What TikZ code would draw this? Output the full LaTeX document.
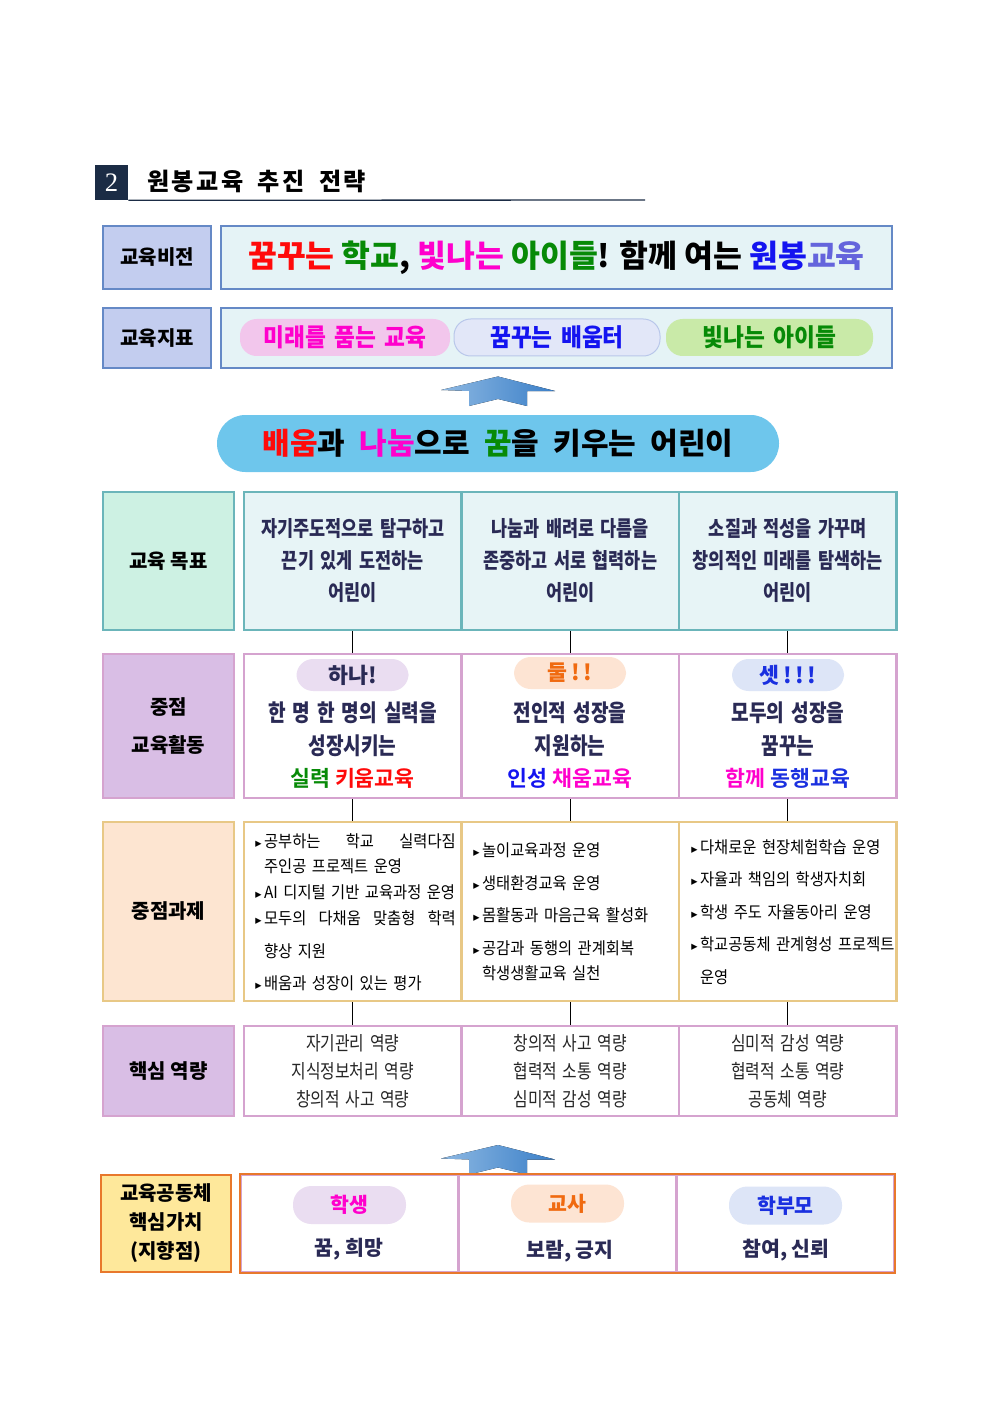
\documentclass[tikz,border=0pt]{standalone}
\usepackage{fontspec}
\setmainfont{Noto Sans CJK KR}
\newfontfamily\cond{Noto Sans CJK KR}[FakeStretch=0.82, WordSpace=1.6]
\newfontfamily\narrow{Noto Sans CJK KR}[FakeStretch=0.92, WordSpace=1.6]
\newfontfamily\titlefont{Noto Sans CJK KR}[LetterSpace=10, WordSpace=1.8]
\IfFontExistsTF{Noto Sans CJK KR Black}
  {\newfontfamily\heavy{Noto Sans CJK KR Black}}
  {\newfontfamily\heavyfb{Noto Sans CJK KR}\newcommand\heavy{\heavyfb\bfseries}}
\newfontfamily\numfont{Liberation Serif}
\newfontfamily\sym{DejaVu Sans}

\definecolor{hdr}{HTML}{1B2C45}
\definecolor{vline}{HTML}{6589C6}
\definecolor{vleft}{HTML}{C3CDEF}
\definecolor{vfill}{HTML}{E5F3F6}
\definecolor{kred}{HTML}{FF0A0A}
\definecolor{mag}{HTML}{FF00CC}
\definecolor{dgreen}{HTML}{078A07}
\definecolor{vblue}{HTML}{1414F0}
\definecolor{vpurple}{HTML}{6464DC}
\definecolor{pinkpill}{HTML}{F2C6EC}
\definecolor{bluepill}{HTML}{E2E7F8}
\definecolor{bluerim}{HTML}{B9C7EA}
\definecolor{greenpill}{HTML}{C9EAA8}
\definecolor{sky}{HTML}{6EC6EC}
\definecolor{arrowlt}{HTML}{8DB8E2}
\definecolor{arrowdk}{HTML}{3B7FC8}
\definecolor{gline}{HTML}{6BB5BA}
\definecolor{gleft}{HTML}{CDF1E3}
\definecolor{gfill}{HTML}{E7F4F6}
\definecolor{aline}{HTML}{D5A3CF}
\definecolor{aleft}{HTML}{D9BEE5}
\definecolor{tline}{HTML}{E8C886}
\definecolor{tleft}{HTML}{FDE5D1}
\definecolor{cline}{HTML}{E8782C}
\definecolor{cleft}{HTML}{FEE89B}
\definecolor{ink}{HTML}{2A2A55}
\definecolor{lav}{HTML}{EADDF1}
\definecolor{peach}{HTML}{FDE4D3}
\definecolor{ice}{HTML}{DDE5F7}
\definecolor{orng}{HTML}{F06A10}
\definecolor{pblue}{HTML}{1A30E0}

\newcommand\bul{{\sym\fontsize{7.5}{7.5}\selectfont ▸}\hspace{1.5pt}}
\newcommand\ind{\hphantom{\bul}}

\begin{document}
\begin{tikzpicture}[x=0.6pt, y=-0.6pt,
  wh/.style 2 args={minimum width=0.6pt*#1, minimum height=0.6pt*#2},
  frame/.style={draw=#1, line width=1.4pt, inner sep=0pt, align=center},
  tag/.style={font=\heavy\fontsize{12}{22.8}\selectfont},
  pill/.style={rounded corners=10pt, inner sep=0pt, align=center},
  goaltext/.style={font=\cond\bfseries\fontsize{12.8}{19.2}\selectfont, text=ink},
  acttext/.style={font=\cond\bfseries\fontsize{14}{19.5}\selectfont, text=ink, align=center},
  tasktext/.style={font=\narrow\fontsize{10}{15.5}\selectfont, anchor=west, align=left, inner sep=0pt},
  coretext/.style={font=\cond\fontsize{11.6}{16.8}\selectfont, text=black!85},
  link/.style={line width=0.7pt},
  uparrow/.style={left color=arrowlt, right color=arrowdk}]
\useasboundingbox (0,0) rectangle (992,1403);

\node[fill=hdr, wh={33}{35}, inner sep=0pt, text=white, font=\numfont\fontsize{16}{16}\selectfont] (num) at (111.5,182.5) {2};
\node[anchor=west, inner sep=0pt, font=\titlefont\bfseries\fontsize{14.5}{14.5}\selectfont] (title) at (147,181) {원봉교육 추진 전략};
\draw[hdr, line width=0.8pt] (num.south east) -- (645,200);

\node[frame=vline, fill=vleft, wh={108}{63}, tag] (visL) at (157,257.5) {교육비전};
\node[frame=vline, fill=vfill, wh={671}{63}, font=\heavy\fontsize{18.8}{18.8}\selectfont] (vis) at (556.5,257.5)
  {\textcolor{kred}{꿈꾸는} \textcolor{dgreen}{학교}, \textcolor{mag}{빛나는} \textcolor{dgreen}{아이들}! 함께 여는 \textcolor{vblue}{원봉}\textcolor{vpurple}{교육}};

\node[frame=vline, fill=vleft, wh={108}{60}, tag] (idxL) at (157,338) {교육지표};
\node[frame=vline, fill=vfill, wh={671}{60}] (idx) at (556.5,338) {};
\begin{scope}[every node/.style={pill, font=\narrow\bfseries\fontsize{14.8}{14.8}\selectfont}]
\node[fill=pinkpill, wh={210}{37}, text=mag] (idx1) at (345,337.5) {미래를 품는 교육};
\node[fill=bluepill, draw=bluerim, line width=0.6pt, wh={206}{37}, text=vblue] (idx2) at (557,337.5) {꿈꾸는 배움터};
\node[fill=greenpill, wh={207}{37}, text=dgreen] (idx3) at (769.5,337.5) {빛나는 아이들};
\end{scope}

\foreach \dy in {0,768.5}
  \fill[uparrow, shift={(0,\dy)}] (441,390) -- (498,376.5) -- (555,391) -- (527,391) -- (527,406)
    -- (498,399) -- (469,406) -- (469,391) -- cycle;

\node[fill=sky, rounded corners=17pt, wh={562}{57}, inner sep=0pt, font=\bfseries\fontsize{18}{18}\selectfont] (motto) at (498,443.5)
  {\textcolor{kred}{배움}과\hspace{8.5pt}\textcolor{mag}{나눔}으로\hspace{8.5pt}\textcolor{dgreen}{꿈}을\hspace{8.5pt}키우는\hspace{8.5pt}어린이};

\node[frame=gline, fill=gleft, wh={131}{138}, tag] (goalL) at (168.5,561) {교육 목표};
\node[frame=gline, fill=gfill, wh={217.5}{138}, goaltext] (g1) at (352.75,561) {자기주도적으로 탐구하고\\끈기 있게 도전하는\\어린이};
\node[frame=gline, fill=gfill, wh={217.5}{138}, goaltext] (g2) at (570.25,561) {나눔과 배려로 다름을\\존중하고 서로 협력하는\\어린이};
\node[frame=gline, fill=gfill, wh={217.5}{138}, goaltext] (g3) at (787.75,561) {소질과 적성을 가꾸며\\창의적인 미래를 탐색하는\\어린이};

\node[frame=aline, fill=aleft, wh={131}{144}, tag] (actL) at (168.5,726) {중점\\교육활동};
\node[frame=aline, fill=white, wh={217.5}{144}] (a1) at (352.75,726) {};
\node[frame=aline, fill=white, wh={217.5}{144}] (a2) at (570.25,726) {};
\node[frame=aline, fill=white, wh={217.5}{144}] (a3) at (787.75,726) {};
\begin{scope}[every node/.style={pill, wh={112}{32}, font=\bfseries\fontsize{13}{13}\selectfont}]
\node[fill=lav, text=ink] (ap1) at (352.5,675) {하나!};
\node[fill=peach, text=orng] (ap2) at (570,673) {둘\,!\,!};
\node[fill=ice, text=pblue] (ap3) at (788,675) {셋\,!\,!\,!};
\end{scope}
\node[acttext] (at1) at (352.5,745.5) {한 명 한 명의 실력을\\성장시키는\\{\heavy\fontsize{13}{19.5}\selectfont\textcolor{dgreen}{실력} \textcolor{kred}{키움교육}}};
\node[acttext] (at2) at (570,745.5) {전인적 성장을\\지원하는\\{\heavy\fontsize{13}{19.5}\selectfont\textcolor{vblue}{인성} \textcolor{mag}{채움교육}}};
\node[acttext] (at3) at (788,745.5) {모두의 성장을\\꿈꾸는\\{\heavy\fontsize{13}{19.5}\selectfont\textcolor{mag}{함께} \textcolor{pblue}{동행교육}}};

\node[frame=tline, fill=tleft, wh={131}{179}, tag] (taskL) at (168.5,911.5) {중점과제};
\node[frame=tline, fill=white, wh={217.5}{179}] (t1) at (352.75,911.5) {};
\node[frame=tline, fill=white, wh={217.5}{179}] (t2) at (570.25,911.5) {};
\node[frame=tline, fill=white, wh={217.5}{179}] (t3) at (787.75,911.5) {};
\node[tasktext] (tt1) at (255,912) {\bul\makebox[115pt][s]{공부하는 학교 실력다짐}\\
  \ind 주인공 프로젝트 운영\\
  \bul AI 디지털 기반 교육과정 운영\\
  \bul\makebox[115pt][s]{모두의 다채움 맞춤형 학력}\\[4pt]
  \ind 향상 지원\\[4pt]
  \bul 배움과 성장이 있는 평가};
\node[tasktext] (tt2) at (473,912) {\bul 놀이교육과정 운영\\[4pt]
  \bul 생태환경교육 운영\\[4pt]
  \bul 몸활동과 마음근육 활성화\\[4pt]
  \bul 공감과 동행의 관계회복\\
  \ind 학생생활교육 실천};
\node[tasktext] (tt3) at (691,912) {\bul 다채로운 현장체험학습 운영\\[4pt]
  \bul 자율과 책임의 학생자치회\\[4pt]
  \bul 학생 주도 자율동아리 운영\\[4pt]
  \bul 학교공동체 관계형성 프로젝트\\[4pt]
  \ind 운영};

\node[frame=aline, fill=aleft, wh={131}{90}, tag] (coreL) at (168.5,1071) {핵심 역량};
\node[frame=aline, fill=white, wh={217.5}{90}, coretext] (k1) at (352.75,1071) {자기관리 역량\\지식정보처리 역량\\창의적 사고 역량};
\node[frame=aline, fill=white, wh={217.5}{90}, coretext] (k2) at (570.25,1071) {창의적 사고 역량\\협력적 소통 역량\\심미적 감성 역량};
\node[frame=aline, fill=white, wh={217.5}{90}, coretext] (k3) at (787.75,1071) {심미적 감성 역량\\협력적 소통 역량\\공동체 역량};

\foreach \i in {1,2,3} {
  \draw[link] (g\i.south) -- (a\i.north);
  \draw[link] (a\i.south) -- (t\i.north);
  \draw[link] (t\i.south) -- (k\i.north);
}

\node[frame=cline, fill=cleft, wh={130}{97}, font=\heavy\fontsize{12}{17.4}\selectfont] (commL) at (166,1223.5) {교육공동체\\핵심가치\\(지향점)};
\node[frame=aline, fill=white, wh={217.7}{97}] (c1) at (349.8,1223.5) {};
\node[frame=aline, fill=white, wh={217.7}{97}] (c2) at (567.5,1223.5) {};
\node[frame=aline, fill=white, wh={217.7}{97}] (c3) at (785.2,1223.5) {};
\draw[cline, line width=1.4pt] (c1.north west) rectangle (c3.south east);
\begin{scope}[every node/.style={font=\heavy\fontsize{12.3}{12.3}\selectfont}]
\node[pill, rounded corners=11pt, fill=lav, wh={113}{38}, text=mag] (s1) at (349.5,1205) {학생};
\node[pill, rounded corners=11pt, fill=peach, wh={113}{38}, text=orng] (s2) at (567.5,1203.5) {교사};
\node[pill, rounded corners=11pt, fill=ice, wh={113}{38}, text=pblue] (s3) at (785.5,1205.5) {학부모};
\node[text=ink] (v1) at (349,1249) {꿈, 희망};
\node[text=ink] (v2) at (570,1251) {보람, 긍지};
\node[text=ink] (v3) at (786,1250) {참여, 신뢰};
\end{scope}
\end{tikzpicture}
\end{document}
